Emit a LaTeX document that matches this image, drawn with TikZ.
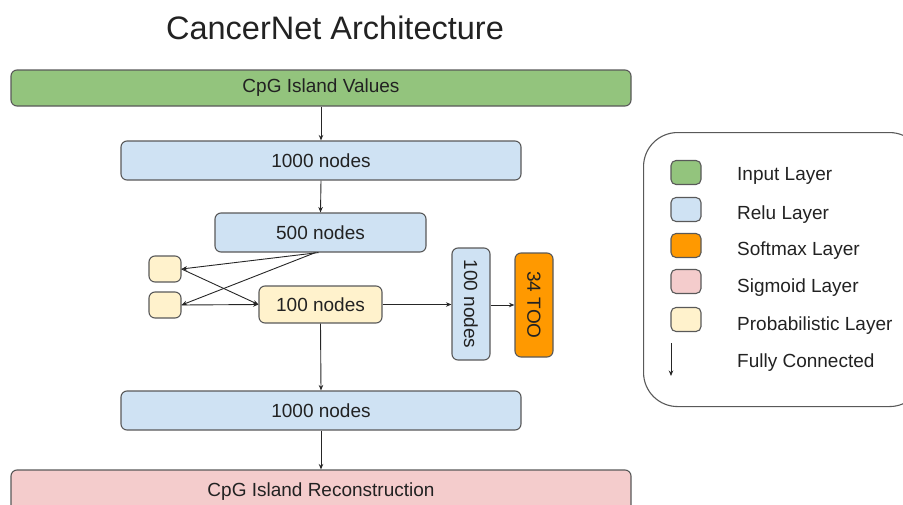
\documentclass[tikz,border=0pt]{standalone}
\usepackage{fontspec}
\setmainfont{Liberation Sans}
\usetikzlibrary{arrows.meta,calc}
\definecolor{inGreen}{HTML}{93C47D}
\definecolor{reluBlue}{HTML}{CFE2F3}
\definecolor{softOrange}{HTML}{FF9900}
\definecolor{sigPink}{HTML}{F4CCCC}
\definecolor{probYellow}{HTML}{FFF2CC}
\definecolor{edgeGray}{HTML}{595959}
\definecolor{inkGray}{HTML}{222222}
\tikzset{
  layer/.style={draw=edgeGray, line width=1.1pt, rounded corners=6pt,
    inner sep=0pt, text=inkGray, font=\fontsize{19}{22}\selectfont},
  swatch/.style={draw=edgeGray, line width=1.1pt, rounded corners=5pt,
    minimum width=30pt, minimum height=24pt, inner sep=0pt},
  legtext/.style={anchor=base west, inner sep=0pt, text=inkGray, font=\fontsize{19}{22}\selectfont},
  conn/.style={draw=black!85, line width=0.9pt, -{Stealth[length=5.5pt,width=4.5pt]}},
}
\begin{document}
\begin{tikzpicture}[x=1pt,y=-1pt]
\useasboundingbox (0,0) rectangle (903,504);
\clip (0,0) rectangle (903,504);

% title
\node[font=\fontsize{32.5}{38}\selectfont, inner sep=0pt, text=inkGray] (title) at (335,28) {CancerNet Architecture};

% main stack
\node[layer, fill=inGreen, minimum width=620pt, minimum height=36pt] (input) at (321,88) {CpG Island Values};
\node[layer, fill=reluBlue, minimum width=400pt, minimum height=39pt] (encA) at (321,160.5) {1000 nodes};
\node[layer, fill=reluBlue, minimum width=211pt, minimum height=39pt] (encB) at (320.5,232.5) {500 nodes};
\node[layer, fill=probYellow, minimum width=32pt, minimum height=26pt] (mu) at (165,269) {};
\node[layer, fill=probYellow, minimum width=32pt, minimum height=26pt] (sigma) at (165,305) {};
\node[layer, fill=probYellow, minimum width=123pt, minimum height=37pt] (latent) at (320.5,304.5) {100 nodes};
\node[layer, fill=reluBlue, minimum width=38pt, minimum height=112pt] (clsA) at (471,304) {\rotatebox{-90}{100 nodes}};
\node[layer, fill=softOrange, minimum width=38pt, minimum height=104pt] (too) at (534,305) {\rotatebox{-90}{34 TOO}};
\node[layer, fill=reluBlue, minimum width=400pt, minimum height=39pt] (decA) at (321,410.5) {1000 nodes};
\node[layer, fill=sigPink, minimum width=620pt, minimum height=44pt] (recon) at (321,492) {CpG Island Reconstruction};

% connections
\draw[conn] ($(encB.south)+(-2,0)$) -- (mu.east);
\draw[conn] ($(encB.south)+(-5,0)$) -- (sigma.east);
\draw[conn] (input.south) -- (encA.north);
\draw[conn] (encA.south) -- (encB.north);
\draw[conn] (mu.east) -- (latent.west);
\draw[conn] (sigma.east) -- (latent.west);
\draw[conn] (latent.east) -- (latent.east -| clsA.west);
\draw[conn] (clsA.east |- too.west) -- (too.west);
\draw[conn] (latent.south) -- (decA.north);
\draw[conn] (decA.south) -- (recon.north);

% legend
\node[draw=edgeGray, line width=1.1pt, rounded corners=34pt, minimum width=280pt,
  minimum height=274pt, anchor=north west, inner sep=0pt] (legend) at (643,132) {};
\node[swatch, fill=inGreen] (lgIn) at (686,172.5) {};
\node[swatch, fill=reluBlue] (lgRelu) at (686,209.5) {};
\node[swatch, fill=softOrange] (lgSoft) at (686,245.5) {};
\node[swatch, fill=sigPink] (lgSig) at (686,281.5) {};
\node[swatch, fill=probYellow] (lgProb) at (686,319.5) {};
\coordinate (fcTop) at (671,343);
\coordinate (fcBot) at (671,376);
\draw[conn] (fcTop) -- (fcBot);
% label baselines
\node[legtext] (tIn) at (737,180) {Input Layer};
\node[legtext] (tRelu) at (737,219) {Relu Layer};
\node[legtext] (tSoft) at (737,255) {Softmax Layer};
\node[legtext] (tSig) at (737,292) {Sigmoid Layer};
\node[legtext] (tProb) at (737,330) {Probabilistic Layer};
\node[legtext] (tFc) at (737,367) {Fully Connected};
\end{tikzpicture}
\end{document}
